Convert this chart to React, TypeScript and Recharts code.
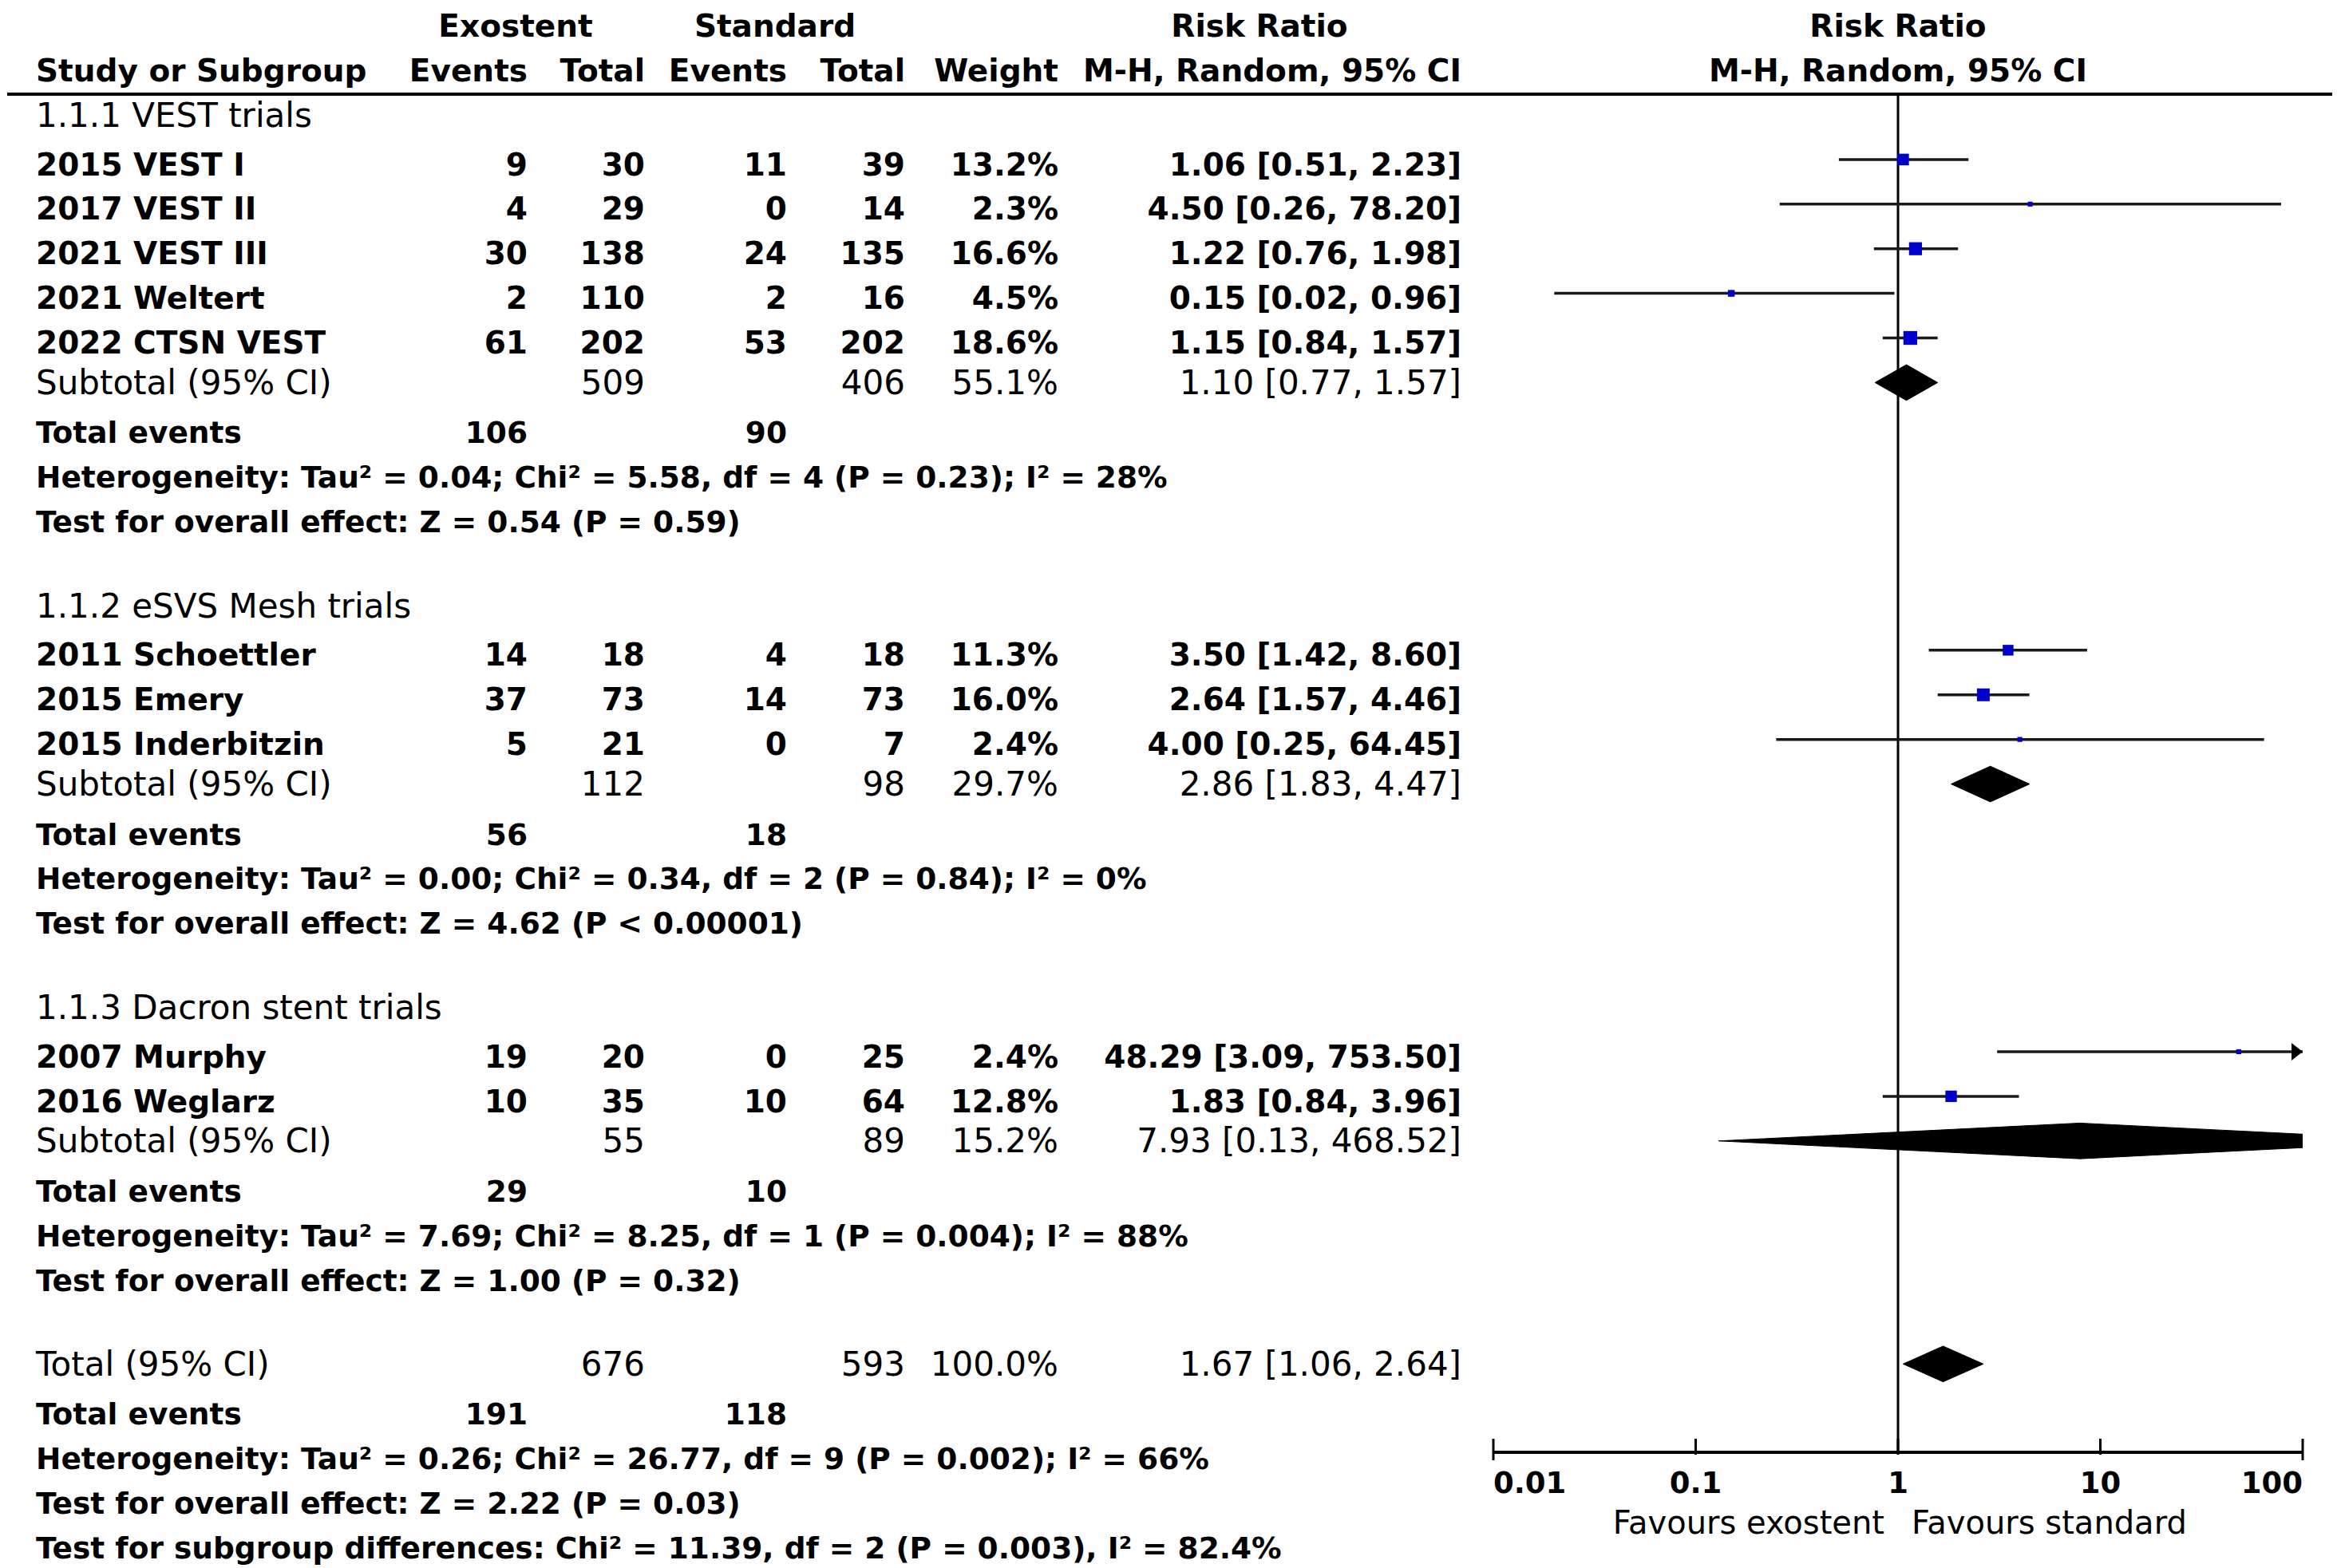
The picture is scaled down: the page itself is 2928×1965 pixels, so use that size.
import React from 'react';
import { ComposedChart, XAxis, YAxis, Scatter, ReferenceLine, ReferenceDot } from 'recharts';

// ---------------- data ----------------
const groupTitles = ['1.1.1 VEST trials', '1.1.2 eSVS Mesh trials', '1.1.3 Dacron stent trials'];
const studyNames = [
  ['2015 VEST I', '2017 VEST II', '2021 VEST III', '2021 Weltert', '2022 CTSN VEST'],
  ['2011 Schoettler', '2015 Emery', '2015 Inderbitzin'],
  ['2007 Murphy', '2016 Weglarz'],
];
const expEvents = [[9, 4, 30, 2, 61], [14, 37, 5], [19, 10]];
const expTotals = [[30, 29, 138, 110, 202], [18, 73, 21], [20, 35]];
const ctlEvents = [[11, 0, 24, 2, 53], [4, 14, 0], [0, 10]];
const ctlTotals = [[39, 14, 135, 16, 202], [18, 73, 7], [25, 64]];
const weights = [[13.2, 2.3, 16.6, 4.5, 18.6], [11.3, 16.0, 2.4], [2.4, 12.8]];
const ratios = [[1.06, 4.5, 1.22, 0.15, 1.15], [3.5, 2.64, 4.0], [48.29, 1.83]];
const lowers = [[0.51, 0.26, 0.76, 0.02, 0.84], [1.42, 1.57, 0.25], [3.09, 0.84]];
const uppers = [[2.23, 78.2, 1.98, 0.96, 1.57], [8.6, 4.46, 64.45], [753.5, 3.96]];

const subExpTotals = [509, 112, 55];
const subCtlTotals = [406, 98, 89];
const subWeights = [55.1, 29.7, 15.2];
const subRatios = [1.1, 2.86, 7.93];
const subLowers = [0.77, 1.83, 0.13];
const subUppers = [1.57, 4.47, 468.52];
const subExpEvents = [106, 56, 29];
const subCtlEvents = [90, 18, 10];
const subHeterogeneity = [
  'Heterogeneity: Tau² = 0.04; Chi² = 5.58, df = 4 (P = 0.23); I² = 28%',
  'Heterogeneity: Tau² = 0.00; Chi² = 0.34, df = 2 (P = 0.84); I² = 0%',
  'Heterogeneity: Tau² = 7.69; Chi² = 8.25, df = 1 (P = 0.004); I² = 88%',
];
const subOverallEffect = [
  'Test for overall effect: Z = 0.54 (P = 0.59)',
  'Test for overall effect: Z = 4.62 (P < 0.00001)',
  'Test for overall effect: Z = 1.00 (P = 0.32)',
];

const totalLabel = 'Total (95% CI)';
const totalExpTotal = 676;
const totalCtlTotal = 593;
const totalWeight = 100.0;
const totalRatio = 1.67;
const totalLower = 1.06;
const totalUpper = 2.64;
const totalExpEvents = 191;
const totalCtlEvents = 118;
const totalNotes = [
  'Heterogeneity: Tau² = 0.26; Chi² = 26.77, df = 9 (P = 0.002); I² = 66%',
  'Test for overall effect: Z = 2.22 (P = 0.03)',
  'Test for subgroup differences: Chi² = 11.39, df = 2 (P = 0.003), I² = 82.4%',
];

const xTicks = [0.01, 0.1, 1, 10, 100];
const xTickLabels = ['0.01', '0.1', '1', '10', '100'];
const favoursLeft = 'Favours exostent';
const favoursRight = 'Favours standard';

// ---------------- layout ----------------
const W = 2928;
const H = 1965;
const PLOT_LEFT = 1871;
const PLOT_RIGHT = 2885;
const PLOT_TOP = 118;
const PLOT_BOTTOM = 1820;
const AXIS_H = 100;
const X_DOMAIN: [number, number] = [0.01, 100];
const Y_DOMAIN: [number, number] = [-0.465, 29.98];
const FONT = '"DejaVu Sans", Verdana, sans-serif';

const COL_NAME = 45;
const COL_EXP_EV = 661;
const COL_EXP_TOT = 808;
const COL_CTL_EV = 986;
const COL_CTL_TOT = 1134;
const COL_WEIGHT = 1326;
const COL_RR = 1831;
const HEAD_EXP = 646;
const HEAD_CTL = 971;
const HEAD_RR = 1578;
const LINE_X0 = 9;
const LINE_X1 = 2922;
const SQ = 4.0;
const DH = 0.4;

type Anchor = 'start' | 'middle' | 'end';
type Style = 'head' | 'regular' | 'study' | 'note';
type Cell = { x: number | 'plot'; text: string; anchor: Anchor };
type Row = { r: number; style: Style; cells: Cell[] };

const STYLE_SIZE: Record<Style, number> = { head: 39, regular: 42, study: 39, note: 37.5 };
const STYLE_WEIGHT: Record<Style, string> = { head: 'bold', regular: 'normal', study: 'bold', note: 'bold' };
const STYLE_SHIFT: Record<Style, number> = { head: 0, regular: 0, study: 6, note: 7 };

const fmtPct = (v: number) => v.toFixed(1) + '%';
const fmtRR = (e: number, l: number, h: number) => `${e.toFixed(2)} [${l.toFixed(2)}, ${h.toFixed(2)}]`;

const rows: Row[] = [];
const studyPoints: { x: number; y: number; w: number; lo: number; hi: number }[] = [];
const diamonds: { est: number; lo: number; hi: number; y: number }[] = [];

rows.push({
  r: -2, style: 'head', cells: [
    { x: HEAD_EXP, text: 'Exostent', anchor: 'middle' },
    { x: HEAD_CTL, text: 'Standard', anchor: 'middle' },
    { x: HEAD_RR, text: 'Risk Ratio', anchor: 'middle' },
    { x: 'plot', text: 'Risk Ratio', anchor: 'middle' },
  ],
});
rows.push({
  r: -1, style: 'head', cells: [
    { x: COL_NAME, text: 'Study or Subgroup', anchor: 'start' },
    { x: COL_EXP_EV, text: 'Events', anchor: 'end' },
    { x: COL_EXP_TOT, text: 'Total', anchor: 'end' },
    { x: COL_CTL_EV, text: 'Events', anchor: 'end' },
    { x: COL_CTL_TOT, text: 'Total', anchor: 'end' },
    { x: COL_WEIGHT, text: 'Weight', anchor: 'end' },
    { x: COL_RR, text: 'M-H, Random, 95% CI', anchor: 'end' },
    { x: 'plot', text: 'M-H, Random, 95% CI', anchor: 'middle' },
  ],
});

let r = 0;
groupTitles.forEach((title, g) => {
  rows.push({ r, style: 'regular', cells: [{ x: COL_NAME, text: title, anchor: 'start' }] });
  r++;
  studyNames[g].forEach((name, i) => {
    rows.push({
      r, style: 'study', cells: [
        { x: COL_NAME, text: name, anchor: 'start' },
        { x: COL_EXP_EV, text: String(expEvents[g][i]), anchor: 'end' },
        { x: COL_EXP_TOT, text: String(expTotals[g][i]), anchor: 'end' },
        { x: COL_CTL_EV, text: String(ctlEvents[g][i]), anchor: 'end' },
        { x: COL_CTL_TOT, text: String(ctlTotals[g][i]), anchor: 'end' },
        { x: COL_WEIGHT, text: fmtPct(weights[g][i]), anchor: 'end' },
        { x: COL_RR, text: fmtRR(ratios[g][i], lowers[g][i], uppers[g][i]), anchor: 'end' },
      ],
    });
    studyPoints.push({ x: ratios[g][i], y: r, w: weights[g][i], lo: lowers[g][i], hi: uppers[g][i] });
    r++;
  });
  rows.push({
    r, style: 'regular', cells: [
      { x: COL_NAME, text: 'Subtotal (95% CI)', anchor: 'start' },
      { x: COL_EXP_TOT, text: String(subExpTotals[g]), anchor: 'end' },
      { x: COL_CTL_TOT, text: String(subCtlTotals[g]), anchor: 'end' },
      { x: COL_WEIGHT, text: fmtPct(subWeights[g]), anchor: 'end' },
      { x: COL_RR, text: fmtRR(subRatios[g], subLowers[g], subUppers[g]), anchor: 'end' },
    ],
  });
  diamonds.push({ est: subRatios[g], lo: subLowers[g], hi: subUppers[g], y: r });
  r++;
  rows.push({
    r, style: 'note', cells: [
      { x: COL_NAME, text: 'Total events', anchor: 'start' },
      { x: COL_EXP_EV, text: String(subExpEvents[g]), anchor: 'end' },
      { x: COL_CTL_EV, text: String(subCtlEvents[g]), anchor: 'end' },
    ],
  });
  r++;
  rows.push({ r, style: 'note', cells: [{ x: COL_NAME, text: subHeterogeneity[g], anchor: 'start' }] });
  r++;
  rows.push({ r, style: 'note', cells: [{ x: COL_NAME, text: subOverallEffect[g], anchor: 'start' }] });
  r++;
  r++; // blank
});

rows.push({
  r, style: 'regular', cells: [
    { x: COL_NAME, text: totalLabel, anchor: 'start' },
    { x: COL_EXP_TOT, text: String(totalExpTotal), anchor: 'end' },
    { x: COL_CTL_TOT, text: String(totalCtlTotal), anchor: 'end' },
    { x: COL_WEIGHT, text: fmtPct(totalWeight), anchor: 'end' },
    { x: COL_RR, text: fmtRR(totalRatio, totalLower, totalUpper), anchor: 'end' },
  ],
});
diamonds.push({ est: totalRatio, lo: totalLower, hi: totalUpper, y: r });
r++;
rows.push({
  r, style: 'note', cells: [
    { x: COL_NAME, text: 'Total events', anchor: 'start' },
    { x: COL_EXP_EV, text: String(totalExpEvents), anchor: 'end' },
    { x: COL_CTL_EV, text: String(totalCtlEvents), anchor: 'end' },
  ],
});
r++;
totalNotes.forEach((t) => {
  rows.push({ r, style: 'note', cells: [{ x: COL_NAME, text: t, anchor: 'start' }] });
  r++;
});

// ---------------- render helpers ----------------
const renderRow = (row: Row, cx: number, cy: number) => (
  <g>
    {row.cells.map((c, k) => (
      <text
        key={k}
        x={c.x === 'plot' ? cx : c.x}
        y={cy + STYLE_SHIFT[row.style]}
        dy="0.35em"
        textAnchor={c.anchor}
        fontFamily={FONT}
        fontSize={STYLE_SIZE[row.style]}
        fontWeight={STYLE_WEIGHT[row.style]}
        fill="#000"
      >
        {c.text}
      </text>
    ))}
  </g>
);

const AxisTick = (p: any) => {
  const { x, y, payload } = p;
  const i = xTicks.indexOf(payload.value);
  const last = xTicks.length - 1;
  const anchor: Anchor = i === 0 ? 'start' : i === last ? 'end' : 'middle';
  return (
    <g>
      <line x1={x} x2={x} y1={y - 17} y2={y + (i === 0 || i === last ? 10 : 3)} stroke="#000" strokeWidth={3} />
      <text x={x} y={y + 38} dy="0.35em" textAnchor={anchor} fontFamily={FONT} fontSize={37} fontWeight="bold" fill="#000">
        {xTickLabels[i]}
      </text>
      {payload.value === 1 && (
        <g>
          <text x={x - 17} y={y + 88} dy="0.35em" textAnchor="end" fontFamily={FONT} fontSize={40} fill="#000">
            {favoursLeft}
          </text>
          <text x={x + 17} y={y + 88} dy="0.35em" textAnchor="start" fontFamily={FONT} fontSize={40} fill="#000">
            {favoursRight}
          </text>
        </g>
      )}
    </g>
  );
};

const diamondLine = (props: any) => {
  const pts = (props.points || []).map((q: any) => `${q.x},${q.y}`).join(' ');
  return <polygon points={pts} fill="#000" stroke="#000" strokeWidth={1} />;
};

const SquareShape = (p: any) => {
  const s = SQ * Math.sqrt(p.payload.w);
  return <rect x={p.cx - s / 2} y={p.cy - s / 2} width={s} height={s} fill="#0000CC" />;
};

export default function App() {
  return (
    <div style={{ position: 'absolute', left: 0, top: 0, width: W, height: H, background: '#fff' }}>
      <ComposedChart
        width={W}
        height={H}
        margin={{ top: PLOT_TOP, right: W - PLOT_RIGHT, bottom: H - PLOT_BOTTOM - AXIS_H, left: PLOT_LEFT }}
      >
        <XAxis
          type="number"
          dataKey="x"
          scale="log"
          domain={X_DOMAIN}
          allowDataOverflow
          ticks={xTicks}
          interval={0}
          height={AXIS_H}
          tickSize={0}
          tickMargin={0}
          tickLine={false}
          axisLine={{ stroke: '#000', strokeWidth: 4 }}
          tick={(p: any) => <AxisTick {...p} />}
        />
        <YAxis type="number" dataKey="y" domain={Y_DOMAIN} allowDataOverflow reversed hide width={0} />

        <ReferenceLine x={1} stroke="#000" strokeWidth={3} />

        {studyPoints.map((s, k) => (
          <ReferenceLine
            key={'ci' + k}
            segment={[{ x: s.lo, y: s.y }, { x: s.hi, y: s.y }]}
            stroke="#1a1a1a"
            strokeWidth={3.5}
            ifOverflow="hidden"
          />
        ))}

        {studyPoints
          .filter((s) => s.hi > X_DOMAIN[1])
          .map((s, k) => (
            <ReferenceDot
              key={'arrow' + k}
              x={X_DOMAIN[1]}
              y={s.y}
              ifOverflow="visible"
              shape={(p: any) => (
                <polygon points={`${p.cx},${p.cy} ${p.cx - 14},${p.cy - 11} ${p.cx - 14},${p.cy + 11}`} fill="#000" />
              )}
            />
          ))}

        <Scatter data={studyPoints} shape={(p: any) => <SquareShape {...p} />} isAnimationActive={false} />

        {diamonds.map((d, k) => (
          <Scatter
            key={'dia' + k}
            data={[
              { x: d.lo, y: d.y },
              { x: d.est, y: d.y - DH },
              { x: d.hi, y: d.y },
              { x: d.est, y: d.y + DH },
            ]}
            line={diamondLine}
            shape={() => <g />}
            isAnimationActive={false}
          />
        ))}

        <ReferenceDot
          x={1}
          y={Y_DOMAIN[0]}
          ifOverflow="visible"
          shape={(p: any) => <line x1={LINE_X0} x2={LINE_X1} y1={p.cy} y2={p.cy} stroke="#000" strokeWidth={4} />}
        />

        {rows.map((row, k) => (
          <ReferenceDot
            key={'row' + k}
            x={1}
            y={row.r}
            ifOverflow="visible"
            shape={(p: any) => renderRow(row, p.cx, p.cy)}
          />
        ))}
      </ComposedChart>
    </div>
  );
}
